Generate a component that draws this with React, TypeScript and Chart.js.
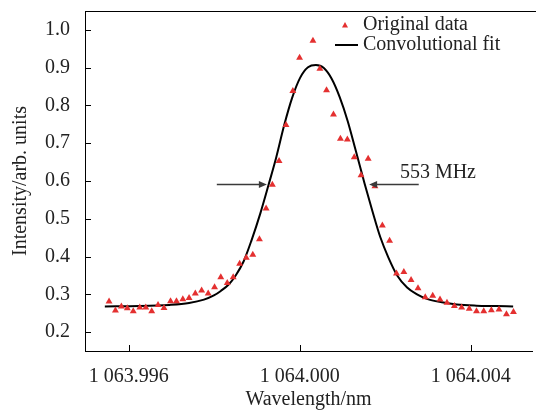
import React, { useEffect, useRef } from "react";
import { Chart, registerables } from "chart.js";

Chart.register(...registerables);

// ---- Data ----
const dataWavelength = [
  1063.995538, 1063.995687, 1063.995826, 1063.995965, 1063.996104, 1063.996257,
  1063.996397, 1063.996536, 1063.996684, 1063.996823, 1063.996976, 1063.997115,
  1063.997264, 1063.99741, 1063.997556, 1063.997704, 1063.997857, 1063.998006,
  1063.998152, 1063.998303, 1063.998442, 1063.998593, 1063.998748, 1063.998901,
  1063.999056, 1063.999212, 1063.999358, 1063.999515, 1063.999678, 1063.999838,
  1063.999995, 1064.000308, 1064.000471, 1064.000626, 1064.000788, 1064.000951,
  1064.001113, 1064.001275, 1064.001433, 1064.0016, 1064.001758, 1064.001932,
  1064.002101, 1064.002263, 1064.002435, 1064.002604, 1064.002766, 1064.002936,
  1064.00311, 1064.003281, 1064.003444, 1064.003617, 1064.003787, 1064.003965,
  1064.004135, 1064.004304, 1064.004482, 1064.004661, 1064.004835, 1064.004999,
];
const dataIntensity = [
  0.281, 0.257, 0.268, 0.263, 0.255, 0.265,
  0.265, 0.255, 0.272, 0.264, 0.282, 0.282,
  0.287, 0.29, 0.302, 0.31, 0.302, 0.319,
  0.345, 0.33, 0.345, 0.381, 0.397, 0.405,
  0.446, 0.527, 0.59, 0.653, 0.748, 0.838,
  0.926, 0.971, 0.897, 0.84, 0.776, 0.712,
  0.71, 0.663, 0.615, 0.659, 0.586, 0.482,
  0.442, 0.355, 0.359, 0.338, 0.316, 0.292,
  0.296, 0.286, 0.278, 0.269, 0.265, 0.262,
  0.255, 0.255, 0.258, 0.26, 0.247, 0.253,
];
const fitWavelength = [
  1063.995439, 1063.99625, 1063.996946, 1063.99741, 1063.997758, 1063.99799,
  1063.998152, 1063.998337, 1063.9985, 1063.998685, 1063.998871, 1063.999079,
  1063.999265, 1063.99945, 1063.999636, 1063.999821, 1064.000007, 1064.000192,
  1064.000378, 1064.000563, 1064.000749, 1064.000934, 1064.00112, 1064.001306,
  1064.001514, 1064.0017, 1064.001885, 1064.002071, 1064.002279, 1064.002511,
  1064.002743, 1064.002975, 1064.003323, 1064.003671, 1064.004134, 1064.004598,
  1064.004992,
];
const fitIntensity = [
  0.268, 0.269, 0.272, 0.277, 0.286, 0.297,
  0.309, 0.326, 0.35, 0.387, 0.443, 0.515,
  0.588, 0.663, 0.748, 0.82, 0.873, 0.901,
  0.907, 0.899, 0.87, 0.822, 0.759, 0.682,
  0.594, 0.52, 0.451, 0.398, 0.35, 0.318,
  0.3, 0.288, 0.279, 0.273, 0.27, 0.269,
  0.268,
];
const yTicks = [0.2, 0.3, 0.4, 0.5, 0.6, 0.7, 0.8, 0.9, 1.0];
const xTicks = [1063.996, 1064.0, 1064.004];
const xRange = [1063.994975, 1064.005433];
const yRange = [0.15, 1.05];
const seriesLabels = ["Original data", "Convolutional fit"];
const axisTitles = ["Wavelength/nm", "Intensity/arb. units"];
const fwhmLabel = "553 MHz";
const halfLevel = 0.591;
const leftArrow = [1063.998059, 1063.99923];
const rightArrow = [1064.002783, 1064.001623];
const fwhmTextAt = [1064.002342, 0.609];

const FONT = '"Liberation Serif", "Times New Roman", Times, serif';
const RED = "rgb(228, 48, 48)";

function fmtWave(v: number): string {
  const s = v.toFixed(3);
  const [i, f] = s.split(".");
  return i.replace(/\B(?=(\d{3})+(?!\d))/g, " ") + "." + f;
}

function arrow(ctx: CanvasRenderingContext2D, x0: number, x1: number, y: number) {
  const dir = x1 > x0 ? 1 : -1;
  ctx.beginPath();
  ctx.moveTo(x0, y);
  ctx.lineTo(x1 - dir * 6, y);
  ctx.stroke();
  ctx.beginPath();
  ctx.moveTo(x1, y);
  ctx.lineTo(x1 - dir * 8, y - 3.5);
  ctx.lineTo(x1 - dir * 8, y + 3.5);
  ctx.closePath();
  ctx.fill();
}

const decorPlugin = {
  id: "decor",
  afterDraw(chart: any) {
    const { ctx, chartArea: ca, scales } = chart;
    const x = scales.x;
    const y = scales.y;
    ctx.save();
    ctx.strokeStyle = "#000";
    ctx.lineWidth = 1;
    ctx.beginPath();
    ctx.moveTo(ca.left, Math.round(ca.top) + 0.5);
    ctx.lineTo(chart.width, Math.round(ca.top) + 0.5);
    for (const t of yTicks) {
      const py = Math.round(y.getPixelForValue(t)) + 0.5;
      ctx.moveTo(ca.left, py);
      ctx.lineTo(ca.left + 6, py);
    }
    for (const t of xTicks) {
      const px = Math.round(x.getPixelForValue(t)) + 0.5;
      ctx.moveTo(px, ca.bottom);
      ctx.lineTo(px, ca.bottom - 6);
    }
    ctx.stroke();

    // FWHM arrows and label
    ctx.strokeStyle = "#3a3a3a";
    ctx.fillStyle = "#3a3a3a";
    ctx.lineWidth = 1.5;
    const ay = y.getPixelForValue(halfLevel);
    arrow(ctx, x.getPixelForValue(leftArrow[0]), x.getPixelForValue(leftArrow[1]), ay);
    arrow(ctx, x.getPixelForValue(rightArrow[0]), x.getPixelForValue(rightArrow[1]), ay);
    ctx.fillStyle = "#222";
    ctx.font = `20px ${FONT}`;
    ctx.textAlign = "left";
    ctx.textBaseline = "alphabetic";
    ctx.fillText(fwhmLabel, x.getPixelForValue(fwhmTextAt[0]), y.getPixelForValue(fwhmTextAt[1]));

    // Legend
    const lx = ca.left + 260;
    const ly1 = ca.top + 14;
    const ly2 = ca.top + 34;
    ctx.fillStyle = RED;
    ctx.beginPath();
    ctx.moveTo(lx, ly1 - 3);
    ctx.lineTo(lx + 3, ly1 + 2.5);
    ctx.lineTo(lx - 3, ly1 + 2.5);
    ctx.closePath();
    ctx.fill();
    ctx.strokeStyle = "#000";
    ctx.lineWidth = 2;
    ctx.beginPath();
    ctx.moveTo(lx - 10, ly2);
    ctx.lineTo(lx + 13, ly2);
    ctx.stroke();
    ctx.fillStyle = "#222";
    ctx.textBaseline = "middle";
    ctx.fillText(seriesLabels[0], lx + 18, ly1);
    ctx.fillText(seriesLabels[1], lx + 18, ly2);
    ctx.restore();
  },
};

export default function App() {
  const ref = useRef<HTMLCanvasElement | null>(null);
  useEffect(() => {
    document.body.style.margin = "0";
    const canvas = ref.current;
    if (!canvas) return;
    const chart = new Chart(canvas, {
      type: "scatter",
      data: {
        datasets: [
          {
            label: seriesLabels[0],
            data: dataWavelength.map((w, i) => ({ x: w, y: dataIntensity[i] })),
            pointStyle: "triangle",
            pointRadius: 4,
            pointHoverRadius: 4,
            backgroundColor: RED,
            borderColor: RED,
            borderWidth: 0,
            order: 0,
          },
          {
            type: "line",
            label: seriesLabels[1],
            data: fitWavelength.map((w, i) => ({ x: w, y: fitIntensity[i] })),
            borderColor: "#000",
            borderWidth: 2,
            pointRadius: 0,
            showLine: true,
            fill: false,
            cubicInterpolationMode: "monotone",
            order: 1,
          } as any,
        ],
      },
      options: {
        responsive: false,
        animation: false,
        events: [],
        layout: { padding: { top: 11, right: 0, left: 0, bottom: 0 } },
        plugins: { legend: { display: false }, tooltip: { enabled: false } },
        scales: {
          x: {
            type: "linear",
            min: xRange[0],
            max: xRange[1],
            grid: { display: false, drawTicks: false },
            border: { display: true, color: "#000", width: 1 },
            afterBuildTicks: (s: any) => {
              s.ticks = xTicks.map((v) => ({ value: v }));
            },
            afterFit: (s: any) => {
              s.height = 68;
              s.paddingLeft = 0;
              s.paddingRight = 0;
            },
            ticks: {
              color: "#222",
              font: { family: FONT, size: 20 },
              padding: 14,
              maxRotation: 0,
              autoSkip: false,
              callback: (v: any) => fmtWave(Number(v)),
            },
            title: {
              display: true,
              text: axisTitles[0],
              color: "#222",
              font: { family: FONT, size: 20 },
              padding: { top: 0, bottom: 7 },
            },
          },
          y: {
            type: "linear",
            min: yRange[0],
            max: yRange[1],
            grid: { display: false, drawTicks: false },
            border: { display: true, color: "#000", width: 1 },
            afterBuildTicks: (s: any) => {
              s.ticks = yTicks.map((v) => ({ value: v }));
            },
            afterFit: (s: any) => {
              s.width = 85;
              s.paddingTop = 0;
              s.paddingBottom = 0;
            },
            ticks: {
              color: "#222",
              font: { family: FONT, size: 20 },
              padding: 15,
              callback: (v: any) => Number(v).toFixed(1),
            },
            title: {
              display: true,
              text: axisTitles[1],
              color: "#222",
              font: { family: FONT, size: 20 },
              padding: { top: 9, bottom: 0 },
            },
          },
        },
      },
      plugins: [decorPlugin],
    });
    return () => chart.destroy();
  }, []);
  return <canvas ref={ref} width={536} height={419} style={{ display: "block" }} />;
}
